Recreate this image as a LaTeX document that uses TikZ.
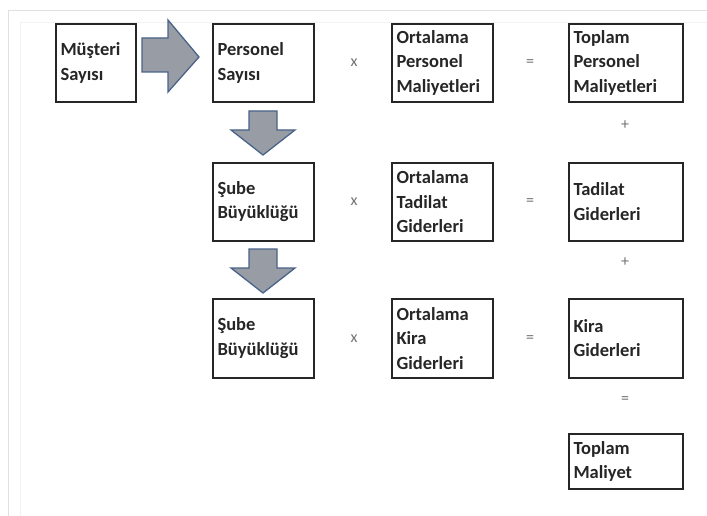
\documentclass[tikz,border=0pt]{standalone}
\usepackage{fontspec}
\setmainfont{Carlito}
\begin{document}
\begin{tikzpicture}[x=1pt,y=-1pt,
  box/.style={draw=black!85, line width=1.6pt, fill=white, inner sep=0pt, anchor=north west},
  lbl/.style={font=\bfseries\fontsize{18.5}{24.5}\selectfont, text=black!85, align=left, anchor=west},
  op/.style={font=\fontsize{16}{18}\selectfont, text=black!55},
  fatarrow/.style={fill=arrowgray, draw=arrowblue, line width=1.3pt, line join=miter}]
\definecolor{arrowgray}{HTML}{979CA5}
\definecolor{arrowblue}{HTML}{4A6388}
\useasboundingbox (0,0) rectangle (707,516);
\fill[white] (0,0) rectangle (707,516);
% faint sheet frame
\draw[black!12, line width=0.8pt] (8,516) -- (8,10) -- (707,10);
\draw[black!5, line width=0.6pt] (20,516) -- (20,22) -- (707,22);

% boxes: name, corner, size
\newcommand{\cellbox}[5]{%
  \node[box, minimum width=#4pt, minimum height=#5pt] (#1) at (#2,#3) {};}
\cellbox{musteri}{55}{23}{80}{78}
\cellbox{personel}{212}{23}{101}{78}
\cellbox{sube1}{212}{162}{101}{78}
\cellbox{sube2}{212}{298}{101}{79}
\cellbox{ortper}{391}{23}{101}{78}
\cellbox{orttad}{391}{162}{101}{78}
\cellbox{ortkira}{391}{298}{101}{79}
\cellbox{topper}{568}{23}{114}{78}
\cellbox{tadilat}{568}{162}{114}{78}
\cellbox{kira}{568}{298}{114}{79}
\cellbox{toplam}{568}{433}{114}{55}

% labels
\node[lbl] (tmusteri) at ([xshift=2pt]musteri.west) {Müşteri\\Sayısı};
\node[lbl] (tpersonel) at ([xshift=2pt]personel.west) {Personel\\Sayısı};
\node[lbl] (tsube1) at ([xshift=2pt]sube1.west) {Şube\\Büyüklüğü};
\node[lbl] (tsube2) at ([xshift=2pt]sube2.west) {Şube\\Büyüklüğü};
\node[lbl] (tortper) at ([xshift=2pt]ortper.west) {Ortalama\\Personel\\Maliyetleri};
\node[lbl] (torttad) at ([xshift=2pt]orttad.west) {Ortalama\\Tadilat\\Giderleri};
\node[lbl] (tortkira) at ([xshift=2pt]ortkira.west) {Ortalama\\Kira\\Giderleri};
\node[lbl] (ttopper) at ([xshift=2pt]topper.west) {Toplam\\Personel\\Maliyetleri};
\node[lbl] (ttadilat) at ([xshift=2pt]tadilat.west) {Tadilat\\Giderleri};
\node[lbl] (tkira) at ([xshift=2pt]kira.west) {Kira\\Giderleri};
\node[lbl] (ttoplam) at ([xshift=2pt]toplam.west) {Toplam\\Maliyet};

% operators
\node[op] (x1) at (354,63) {x};
\node[op] (x2) at (354,202) {x};
\node[op] (x3) at (354,339) {x};
\node[op] (eq1) at (530,63) {=};
\node[op] (eq2) at (530,202) {=};
\node[op] (eq3) at (530,339) {=};
\node[op] (plus1) at (625,125) {+};
\node[op] (plus2) at (625,262) {+};
\node[op] (eq4) at (625,400) {=};

% block arrows
\draw[fatarrow] (142,38) -- (168,38) -- (168,20) -- (199,57) -- (168,92) -- (168,72) -- (142,72) -- cycle;
\draw[fatarrow] (249,111) -- (277,111) -- (277,130) -- (295,130) -- (263,155) -- (231,130) -- (249,130) -- cycle;
\draw[fatarrow] (249,249) -- (277,249) -- (277,268) -- (295,268) -- (263,293) -- (231,268) -- (249,268) -- cycle;
\end{tikzpicture}
\end{document}
